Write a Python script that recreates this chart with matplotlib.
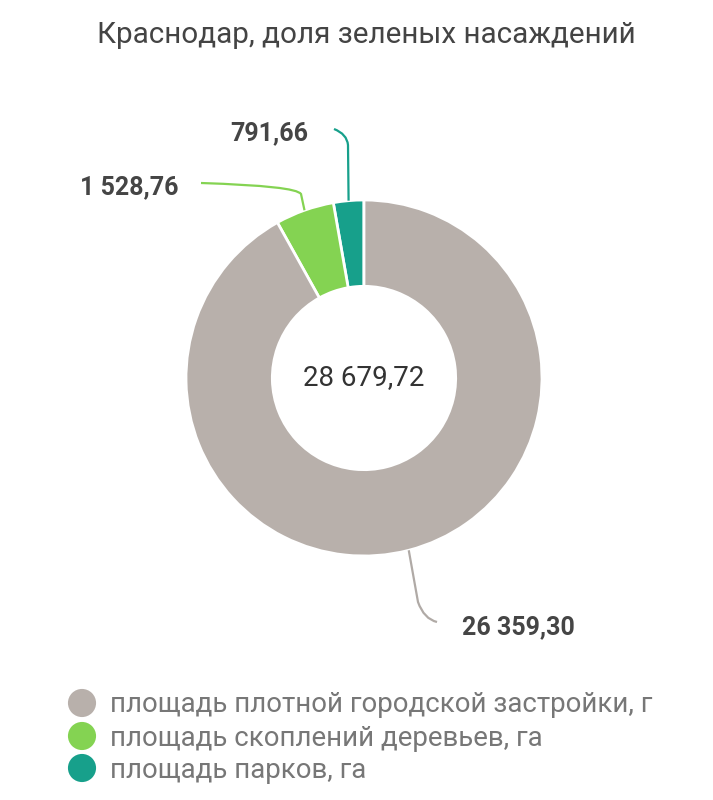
import numpy as np
import matplotlib.pyplot as plt
from matplotlib.path import Path
from matplotlib.patches import PathPatch

plt.rcParams['font.family'] = ['Roboto', 'DejaVu Sans']

title = "Краснодар, доля зеленых насаждений"
# order as drawn counter-clockwise from 12 o'clock
categories = ["площадь парков, га",
              "площадь скоплений деревьев, га",
              "площадь плотной городской застройки, г"]
values = [791.66, 1528.76, 26359.30]
value_labels = ["791,66", "1 528,76", "26 359,30"]
total_label = "28 679,72"
colors = ["#17a08b", "#84d352", "#b8b0ab"]

W, H = 713, 800
fig = plt.figure(figsize=(W / 100, H / 100), dpi=100)
ax = fig.add_axes([0, 0, 1, 1])

def py(y):
    # pixel row from the top -> data y
    return H - y

cx, cy, R = 364, py(378), 178
wedges, _ = ax.pie(values, colors=colors, startangle=90, counterclock=True,
                   radius=R, center=(cx, cy), frame=True,
                   wedgeprops=dict(width=R * 0.485, edgecolor='white', linewidth=2))
ax.set_xlim(0, W)
ax.set_ylim(0, H)
ax.set_aspect('equal')
ax.axis('off')

ax.text(cx, cy, total_label, ha='center', va='center', fontsize=20, color='#333333')
ax.text(366, py(35), title, ha='center', va='center', fontsize=21.3, color='#444444')

# leader lines: anchor on the wedge, then bend and end point (pixel layout)
leaders = [
    dict(bend=[(348, 145), (347, 134)], end=(334, 129), text=(308, 133), ha='right'),
    dict(bend=[(301, 194), (296, 186)], end=(201, 183), text=(178, 187), ha='right'),
    dict(bend=[(418, 602), (424, 619)], end=(437, 622), text=(462, 627), ha='left'),
]
for w, lab, col, ld in zip(wedges, value_labels, colors, leaders):
    ang = np.deg2rad((w.theta1 + w.theta2) / 2)
    ax0 = cx + R * np.cos(ang)
    ay0 = cy + R * np.sin(ang)
    (b1x, b1y), (b2x, b2y) = ld['bend']
    ex, ey = ld['end']
    verts = [(ax0, ay0), (b1x, py(b1y)), (b2x, py(b2y)), (ex, py(ey))]
    codes = [Path.MOVETO, Path.LINETO, Path.CURVE3, Path.CURVE3]
    lc = "#b0aaa6" if col == colors[2] else col
    ax.add_patch(PathPatch(Path(verts, codes), fill=False, edgecolor=lc, linewidth=1.6))
    tx, ty = ld['text']
    ax.text(tx, py(ty), lab, ha=ld['ha'], va='center', fontsize=18,
            fontweight='bold', color='#454545')

# legend
rows = [705, 738, 770]
for i, idx in enumerate([2, 1, 0]):
    ax.scatter([82], [py(rows[i] - 2)], s=410, color=colors[idx], edgecolors='none')
    ax.text(110, py(rows[i]), categories[idx], ha='left', va='center',
            fontsize=19.9, color='#777777')

fig.savefig("out.png", dpi=100, facecolor='white')
